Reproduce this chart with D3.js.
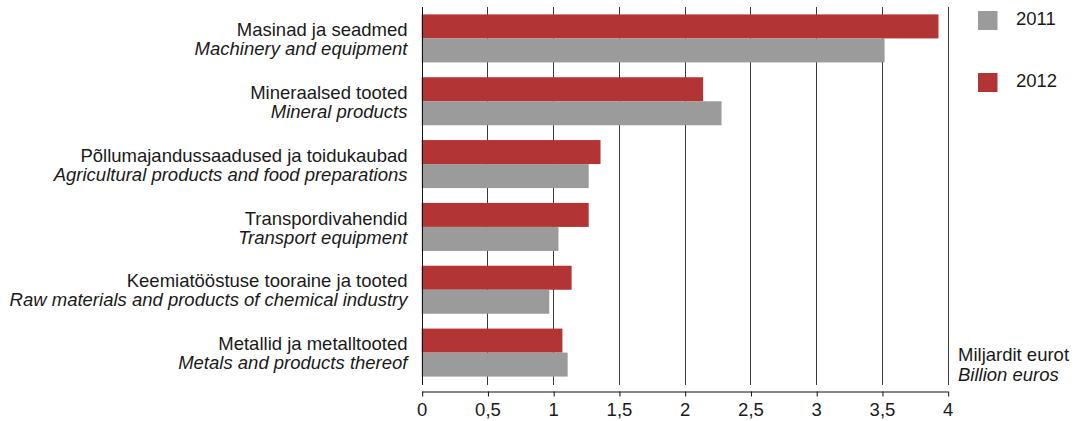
<!DOCTYPE html>
<html><head><meta charset="utf-8">
<script src="https://cdn.jsdelivr.net/npm/d3@7"></script>
<style>body{margin:0;background:#fff}svg{display:block}text{font-family:"Liberation Sans",Arial,sans-serif;fill:#1a1a1a}</style>
</head><body>
<svg id="c" width="1081" height="421"></svg>
<script>
const categoriesEt = ["Masinad ja seadmed","Mineraalsed tooted","Põllumajandussaadused ja toidukaubad","Transpordivahendid","Keemiatööstuse tooraine ja tooted","Metallid ja metalltooted"];
const categoriesEn = ["Machinery and equipment","Mineral products","Agricultural products and food preparations","Transport equipment","Raw materials and products of chemical industry","Metals and products thereof"];
const values2012 = [3.93,2.14,1.36,1.27,1.14,1.07];
const values2011 = [3.52,2.28,1.27,1.04,0.97,1.11];
const tickValues = [0,0.5,1,1.5,2,2.5,3,3.5,4];
const seriesNames = ["2011","2012"];
const colors = {"2011":"#9b9b9b","2012":"#b33434"};

const FS = "18.5px";
const svg = d3.select("#c");
const x = d3.scaleLinear().domain([0,4]).range([421.7,947.7]);
const y = d3.scaleBand().domain(categoriesEt).range([7,384]).paddingInner(0.236).paddingOuter(0.118);
const sub = d3.scaleBand().domain(["2012","2011"]).range([0,y.bandwidth()]);

// gridlines
svg.append("g").selectAll("line").data(tickValues.slice(1)).join("line")
  .attr("x1",d=>Math.round(x(d))+0.5).attr("x2",d=>Math.round(x(d))+0.5)
  .attr("y1",7).attr("y2",385).attr("stroke","#3a3a3a").attr("stroke-width",1);

// bars
const rows = categoriesEt.map((c,i)=>({c, v2012:values2012[i], v2011:values2011[i]}));
const g = svg.append("g");
rows.forEach(r=>{
  [["2012",r.v2012],["2011",r.v2011]].forEach(([s,v])=>{
    g.append("rect").attr("x",x(0)).attr("y",y(r.c)+sub(s))
      .attr("width",x(v)-x(0)).attr("height",sub.bandwidth()).attr("fill",colors[s]);
  });
});

// y axis line
svg.append("line").attr("x1",Math.round(x(0))+0.5).attr("x2",Math.round(x(0))+0.5)
  .attr("y1",7).attr("y2",385).attr("stroke","#111");

// x axis
const xAxis = d3.axisBottom(x).tickValues(tickValues).tickSize(5).tickSizeOuter(0)
  .tickFormat(d=>String(d).replace(".",","));
const ax = svg.append("g").attr("transform","translate(0,391.5)").call(xAxis);
ax.select(".domain").attr("stroke","#111");
ax.selectAll(".tick line").attr("stroke","#111").attr("transform","translate(0.5,0)");
ax.selectAll(".tick text").attr("font-size",FS).attr("dy",null).attr("y",24.5)
  .attr("font-family","Liberation Sans, Arial, sans-serif").attr("fill","#1a1a1a");

// category labels
const lab = svg.append("g");
categoriesEt.forEach((c,i)=>{
  const cy = y(c)+y.bandwidth()/2;
  lab.append("text").attr("x",407.5).attr("y",cy-2.3).attr("text-anchor","end").attr("font-size",FS).text(c);
  lab.append("text").attr("x",407.5).attr("y",cy+16.7).attr("text-anchor","end").attr("font-size",FS).attr("font-style","italic").text(categoriesEn[i]);
});

// legend
const leg = svg.append("g");
seriesNames.forEach((s,i)=>{
  const ly = 11 + i*62;
  leg.append("rect").attr("x",978).attr("y",ly).attr("width",19.5).attr("height",19).attr("fill",colors[s]);
  leg.append("text").attr("x",1016).attr("y",ly+13.5).attr("font-size",FS).text(s);
});

// unit label
svg.append("text").attr("x",958).attr("y",361.3).attr("font-size",FS).text("Miljardit eurot");
svg.append("text").attr("x",958).attr("y",380.5).attr("font-size",FS).attr("font-style","italic").text("Billion euros");
</script>
</body></html>
